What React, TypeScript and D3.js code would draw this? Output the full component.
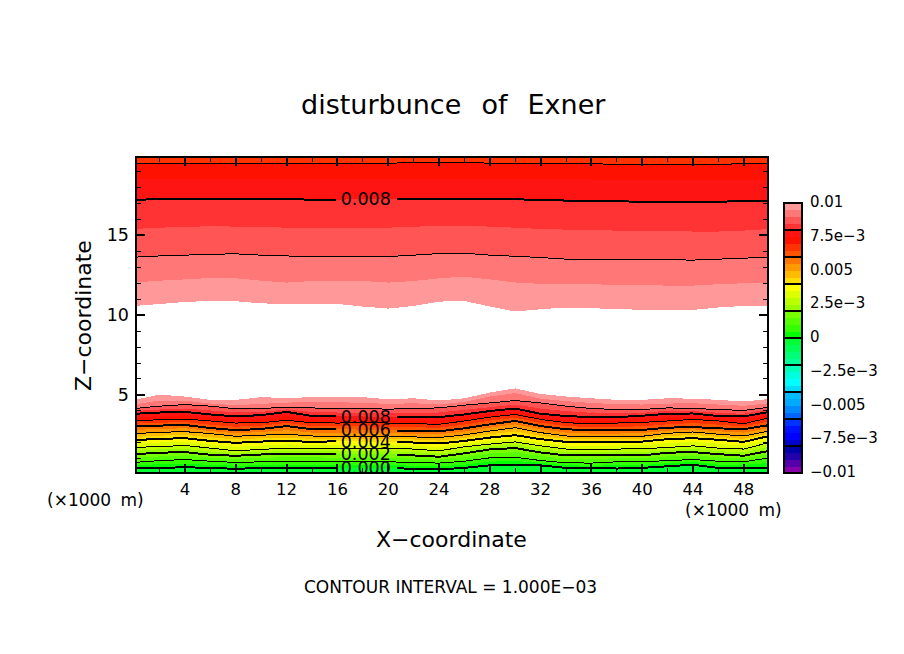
import React from "react";
import * as d3 from "d3";

// x stations, km
const stations = [0,2,4,6,8,10,12,14,16,18,20,22,24,26,28,30,32,34,36,38,40,42,44,46,48,50];

// Height (km) of each iso-level of the Exner disturbance, lower layer
const iso00 = [0.43,0.43,0.47,0.43,0.37,0.43,0.41,0.43,0.43,0.41,0.43,0.37,0.34,0.43,0.59,0.63,0.59,0.43,0.43,0.39,0.43,0.53,0.63,0.43,0.43,0.43];
const iso05 = [0.59,0.66,0.70,0.61,0.57,0.59,0.61,0.61,0.61,0.59,0.61,0.57,0.53,0.63,0.82,0.86,0.74,0.59,0.57,0.59,0.61,0.72,0.80,0.63,0.61,0.74];
const iso10 = [0.77,0.89,0.95,0.85,0.77,0.81,0.85,0.85,0.81,0.81,0.81,0.77,0.73,0.85,1.06,1.10,0.89,0.75,0.73,0.81,0.81,0.89,0.95,0.85,0.81,1.06];
const iso15 = [1.05,1.15,1.21,1.07,1.00,1.07,1.09,1.09,1.07,1.07,1.07,1.00,0.94,1.11,1.34,1.40,1.17,1.00,0.98,1.03,1.03,1.15,1.21,1.09,1.03,1.29];
const iso20 = [1.29,1.38,1.42,1.25,1.19,1.27,1.29,1.27,1.29,1.29,1.29,1.21,1.13,1.34,1.59,1.67,1.40,1.21,1.21,1.21,1.21,1.38,1.42,1.29,1.19,1.50];
const iso25 = [1.50,1.59,1.63,1.46,1.36,1.44,1.48,1.48,1.48,1.48,1.48,1.42,1.32,1.54,1.75,1.88,1.61,1.42,1.42,1.42,1.42,1.54,1.63,1.48,1.40,1.77];
const iso30 = [1.71,1.77,1.83,1.67,1.50,1.59,1.67,1.67,1.65,1.67,1.67,1.61,1.50,1.75,1.92,2.06,1.81,1.61,1.61,1.61,1.63,1.71,1.81,1.67,1.61,2.02];
const iso35 = [1.94,2.02,2.06,1.90,1.75,1.83,1.90,1.88,1.88,1.88,1.88,1.81,1.73,1.94,2.12,2.27,2.02,1.83,1.83,1.83,1.85,1.98,2.06,1.94,1.83,2.23];
const iso40 = [2.17,2.25,2.29,2.12,2.00,2.08,2.12,2.06,2.10,2.08,2.06,2.02,1.96,2.12,2.33,2.48,2.23,2.06,2.06,2.08,2.08,2.23,2.29,2.19,2.06,2.43];
const iso45 = [2.37,2.45,2.50,2.35,2.21,2.29,2.33,2.25,2.25,2.25,2.25,2.21,2.14,2.31,2.54,2.72,2.43,2.25,2.21,2.23,2.25,2.41,2.50,2.37,2.25,2.60];
const iso50 = [2.58,2.66,2.70,2.58,2.41,2.48,2.54,2.43,2.39,2.41,2.43,2.37,2.33,2.50,2.74,2.95,2.64,2.43,2.37,2.37,2.41,2.60,2.68,2.54,2.43,2.74];
const iso55 = [2.81,2.87,2.91,2.74,2.60,2.68,2.79,2.64,2.62,2.62,2.62,2.56,2.54,2.70,2.95,3.16,2.85,2.64,2.58,2.58,2.62,2.76,2.85,2.72,2.64,2.93];
const iso60 = [3.03,3.08,3.12,2.93,2.79,2.87,3.05,2.85,2.85,2.83,2.79,2.74,2.72,2.91,3.16,3.37,3.05,2.85,2.79,2.79,2.81,2.95,2.99,2.91,2.85,3.12];
const iso65 = [3.20,3.26,3.30,3.14,3.01,3.08,3.24,3.05,3.03,3.03,3.01,2.97,2.95,3.14,3.39,3.57,3.26,3.05,2.99,3.01,3.03,3.16,3.24,3.14,3.03,3.34];
const iso70 = [3.37,3.45,3.49,3.37,3.24,3.26,3.41,3.26,3.24,3.26,3.24,3.20,3.16,3.37,3.61,3.78,3.47,3.26,3.20,3.24,3.28,3.37,3.47,3.37,3.20,3.57];
const iso75 = [3.59,3.68,3.72,3.57,3.45,3.51,3.68,3.47,3.45,3.45,3.43,3.41,3.39,3.57,3.80,3.97,3.65,3.47,3.41,3.43,3.49,3.59,3.65,3.53,3.43,3.76];
const iso80 = [3.82,3.90,3.94,3.78,3.65,3.74,3.94,3.68,3.68,3.65,3.61,3.61,3.61,3.78,3.99,4.15,3.82,3.68,3.61,3.61,3.70,3.82,3.84,3.68,3.65,3.94];
const iso85 = [3.99,4.09,4.15,4.03,3.90,3.94,4.09,3.94,3.90,3.90,3.86,3.88,3.90,4.07,4.23,4.40,4.15,3.99,3.88,3.84,3.88,4.01,3.99,3.88,3.82,4.09];
const iso90 = [4.15,4.30,4.40,4.30,4.13,4.15,4.23,4.19,4.13,4.15,4.11,4.15,4.19,4.36,4.50,4.65,4.50,4.30,4.15,4.09,4.09,4.19,4.15,4.09,4.03,4.23];
const iso95 = [4.40,4.65,4.65,4.46,4.36,4.44,4.52,4.55,4.55,4.50,4.44,4.48,4.40,4.57,4.90,5.12,4.77,4.61,4.50,4.42,4.40,4.46,4.48,4.40,4.32,4.48];
const iso100 = [4.69,5.02,4.90,4.69,4.69,4.86,4.81,4.86,4.90,4.86,4.73,4.79,4.65,4.79,5.15,5.41,5.06,4.90,4.79,4.69,4.69,4.79,4.77,4.69,4.59,4.75];

// Upper layer, value falling with height
const up100 = [10.58,10.70,10.83,10.89,10.87,10.74,10.70,10.70,10.70,10.54,10.41,10.58,10.85,10.89,10.54,10.23,10.37,10.48,10.43,10.39,10.33,10.33,10.33,10.48,10.58,10.54];
const up95 = [12.05,12.16,12.24,12.33,12.31,12.16,12.04,12.14,12.14,12.14,12.04,12.14,12.31,12.41,12.24,12.05,11.96,11.96,11.94,11.89,11.89,11.85,11.85,11.94,12.00,12.04];
const up90 = [13.63,13.71,13.76,13.82,13.84,13.76,13.71,13.67,13.67,13.67,13.67,13.76,13.86,13.88,13.76,13.69,13.61,13.51,13.51,13.51,13.49,13.47,13.45,13.51,13.57,13.63];
const up85 = [15.40,15.48,15.53,15.57,15.55,15.53,15.48,15.48,15.48,15.48,15.48,15.55,15.57,15.59,15.55,15.48,15.40,15.36,15.32,15.30,15.28,15.26,15.24,15.24,15.30,15.40];
const up80 = [17.22,17.28,17.30,17.30,17.30,17.30,17.30,17.22,17.22,17.30,17.30,17.30,17.30,17.30,17.30,17.26,17.22,17.18,17.16,17.14,17.10,17.10,17.10,17.10,17.16,17.18];
const up75 = [18.52,18.52,18.52,18.52,18.52,18.52,18.52,18.52,18.52,18.52,18.52,18.54,18.56,18.56,18.54,18.54,18.52,18.52,18.50,18.47,18.45,18.45,18.45,18.45,18.47,18.47];
const up70 = [19.50,19.50,19.50,19.50,19.50,19.50,19.50,19.50,19.50,19.50,19.52,19.56,19.58,19.58,19.52,19.52,19.52,19.52,19.48,19.46,19.44,19.44,19.44,19.44,19.50,19.52];

// Colour table, one entry per 0.0005 step from -0.01 upward
const bandColors = [
  "#8800AA","#5500AA","#2200AA","#0000AA",
  "#0000CC","#0000FF","#0011FF","#0033FF",
  "#0066FF","#0088FF","#00AAFF","#00BBFF",
  "#00DDFF","#00FFFF","#00FFDD","#00FFBB",
  "#00FF99","#00FF77","#00FF55","#00FF33",
  "#00FF00","#33FF00","#55FF00","#77FF00",
  "#99FF00","#BBFF00","#DDFF00","#FFFF00",
  "#FFDD00","#FFBB00","#FF9900","#FF7700",
  "#FF5500","#FF3300","#FF1100","#FF1414",
  "#FF3333","#FF5555","#FF7777","#FF9999",
];
const bandStep = 0.0005;
const barSeparators = [-0.008,-0.006,-0.004,-0.002,0,0.002,0.004,0.006,0.008];
const barTicks = [0.01,0.0075,0.005,0.0025,0,-0.0025,-0.005,-0.0075,-0.01];
const barTickLabels = ["0.01","7.5e\u22123","0.005","2.5e\u22123","0","\u22122.5e\u22123","\u22120.005","\u22127.5e\u22123","\u22120.01"];

const lowerLevels = [
  { value: 0.0095, iso: iso100, thick: false, line: false },
  { value: 0.009, iso: iso95, thick: false, line: false },
  { value: 0.0085, iso: iso90, thick: false, line: true },
  { value: 0.008, iso: iso85, thick: false, line: false },
  { value: 0.0075, iso: iso80, thick: true, line: true },
  { value: 0.007, iso: iso75, thick: false, line: false },
  { value: 0.0065, iso: iso70, thick: false, line: true },
  { value: 0.006, iso: iso65, thick: false, line: false },
  { value: 0.0055, iso: iso60, thick: true, line: true },
  { value: 0.005, iso: iso55, thick: false, line: false },
  { value: 0.0045, iso: iso50, thick: false, line: true },
  { value: 0.004, iso: iso45, thick: false, line: false },
  { value: 0.0035, iso: iso40, thick: true, line: true },
  { value: 0.003, iso: iso35, thick: false, line: false },
  { value: 0.0025, iso: iso30, thick: false, line: true },
  { value: 0.002, iso: iso25, thick: false, line: false },
  { value: 0.0015, iso: iso20, thick: true, line: true },
  { value: 0.001, iso: iso15, thick: false, line: false },
  { value: 0.0005, iso: iso10, thick: false, line: true },
  { value: 0.0, iso: iso05, thick: false, line: false },
  { value: -0.0005, iso: iso00, thick: true, line: true },
];
const upperLevels = [
  { value: 0.0095, iso: up100, thick: false, line: false },
  { value: 0.009, iso: up95, thick: false, line: false },
  { value: 0.0085, iso: up90, thick: false, line: true },
  { value: 0.008, iso: up85, thick: false, line: false },
  { value: 0.0075, iso: up80, thick: true, line: true },
  { value: 0.007, iso: up75, thick: false, line: false },
  { value: 0.0065, iso: up70, thick: false, line: true },
];

const contourLabels = [
  { text: "0.008", iso: up80 },
  { text: "0.008", iso: iso80 },
  { text: "0.006", iso: iso60 },
  { text: "0.004", iso: iso40 },
  { text: "0.002", iso: iso20 },
  { text: "0.000", iso: iso00 },
];
const labelStation = 9;
const labelGapKm = [15.9, 20.7];

const xMajor = [4,8,12,16,20,24,28,32,36,40,44,48];
const xMinor = [2,6,10,14,18,22,26,30,34,38,42,46];
const yMajor = [5,10,15];
const yMinor = [1,2,3,4,6,7,8,9,11,12,13,14,16,17,18,19];

const WIDTH = 904, HEIGHT = 654;
const LEFT = 136, RIGHT = 768, TOP = 157, BOTTOM = 473;
const x = d3.scaleLinear().domain([0, 50]).range([134.2, 769.2]);
const y = d3.scaleLinear().domain([0.11, 19.91]).range([BOTTOM, TOP]);
const bar = d3.scaleLinear().domain([-0.01, 0.01]).range([473, 203]);
const BAR_L = 784, BAR_R = 802;

const FONT = "'DejaVu Sans', sans-serif";

const lineGen = d3.line<number>().x((_, i) => x(stations[i])).y(d => y(d));
const toBottom = d3.area<number>().x((_, i) => x(stations[i])).y0(BOTTOM).y1(d => y(d));
const toTop = d3.area<number>().x((_, i) => x(stations[i])).y0(TOP).y1(d => y(d));

function colorOf(value: number) {
  return bandColors[Math.round((value + 0.01) / bandStep)];
}

export default function App() {
  return (
    <svg width={WIDTH} height={HEIGHT} style={{ position: "absolute", left: 0, top: 0, background: "#fff" }} fontFamily={FONT}>
      <defs>
        <clipPath id="plot"><rect x={LEFT} y={TOP} width={RIGHT - LEFT} height={BOTTOM - TOP} /></clipPath>
        <clipPath id="gap">
          <rect x={LEFT} y={TOP} width={x(labelGapKm[0]) - LEFT} height={BOTTOM - TOP} />
          <rect x={x(labelGapKm[1])} y={TOP} width={RIGHT - x(labelGapKm[1])} height={BOTTOM - TOP} />
        </clipPath>
      </defs>

      <text x={301} y={114} fontSize={27} wordSpacing={11.5}>disturbunce of Exner</text>

      <g clipPath="url(#plot)" shapeRendering="crispEdges">
        {lowerLevels.map(l => <path key={"lo" + l.value} d={toBottom(l.iso) ?? ""} fill={colorOf(l.value)} />)}
        {upperLevels.map(l => <path key={"up" + l.value} d={toTop(l.iso) ?? ""} fill={colorOf(l.value)} />)}
      </g>

      <g clipPath="url(#plot)" fill="none" stroke="#000" shapeRendering="crispEdges">
        {[...lowerLevels, ...upperLevels].filter(l => l.line).map((l, i) => (
          <path key={i} d={lineGen(l.iso) ?? ""} strokeWidth={l.thick ? 2 : 1} clipPath={l.thick ? "url(#gap)" : undefined} />
        ))}
      </g>

      {contourLabels.map((l, i) => (
        <text key={i} x={x(stations[labelStation]) + 3} y={y(l.iso[labelStation]) + 6} textAnchor="middle" fontSize={17.5} fill="#000">{l.text}</text>
      ))}

      <g stroke="#000" shapeRendering="crispEdges">
        {xMajor.map(v => (
          <g key={v} strokeWidth={2}>
            <line x1={x(v)} x2={x(v)} y1={BOTTOM} y2={BOTTOM - 9} />
            <line x1={x(v)} x2={x(v)} y1={TOP} y2={TOP + 9} />
          </g>
        ))}
        {xMinor.map(v => (
          <g key={v} strokeWidth={1}>
            <line x1={x(v)} x2={x(v)} y1={BOTTOM} y2={BOTTOM - 5} />
            <line x1={x(v)} x2={x(v)} y1={TOP} y2={TOP + 5} />
          </g>
        ))}
        {yMajor.map(v => (
          <g key={v} strokeWidth={2}>
            <line x1={LEFT} x2={LEFT + 9} y1={y(v)} y2={y(v)} />
            <line x1={RIGHT} x2={RIGHT - 9} y1={y(v)} y2={y(v)} />
          </g>
        ))}
        {yMinor.map(v => (
          <g key={v} strokeWidth={1}>
            <line x1={LEFT} x2={LEFT + 5} y1={y(v)} y2={y(v)} />
            <line x1={RIGHT} x2={RIGHT - 5} y1={y(v)} y2={y(v)} />
          </g>
        ))}
        <rect x={LEFT} y={TOP} width={RIGHT - LEFT} height={BOTTOM - TOP} fill="none" strokeWidth={2} />
      </g>

      {xMajor.map(v => (
        <text key={v} x={x(v)} y={495} textAnchor="middle" fontSize={16.5}>{v}</text>
      ))}
      {yMajor.map(v => (
        <text key={v} x={129} y={y(v) + 6} textAnchor="end" fontSize={17.5}>{v}</text>
      ))}

      <text x={47} y={506} fontSize={17} wordSpacing={4}>(×1000 m)</text>
      <text x={685} y={516} fontSize={17} wordSpacing={4}>(×1000 m)</text>
      <text x={376} y={547} fontSize={22}>X{"\u2212"}coordinate</text>
      <text transform="translate(91,391) rotate(-90)" fontSize={22}>Z{"\u2212"}coordinate</text>
      <text x={304} y={593} fontSize={17}>CONTOUR INTERVAL = 1.000E{"\u2212"}03</text>

      <g shapeRendering="crispEdges">
        {bandColors.map((c, i) => {
          const lo = -0.01 + i * bandStep;
          return <rect key={i} x={BAR_L} y={bar(lo + bandStep)} width={BAR_R - BAR_L} height={bar(lo) - bar(lo + bandStep) + 0.5} fill={c} />;
        })}
        {barSeparators.map(v => (
          <line key={v} x1={BAR_L} x2={BAR_R} y1={bar(v)} y2={bar(v)} stroke="#000" strokeWidth={2} />
        ))}
        <rect x={BAR_L} y={bar(0.01)} width={BAR_R - BAR_L} height={bar(-0.01) - bar(0.01)} fill="none" stroke="#000" strokeWidth={2} />
      </g>
      {barTicks.map((v, i) => (
        <text key={v} x={810} y={bar(v) + 4} fontSize={15}>{barTickLabels[i]}</text>
      ))}
    </svg>
  );
}
